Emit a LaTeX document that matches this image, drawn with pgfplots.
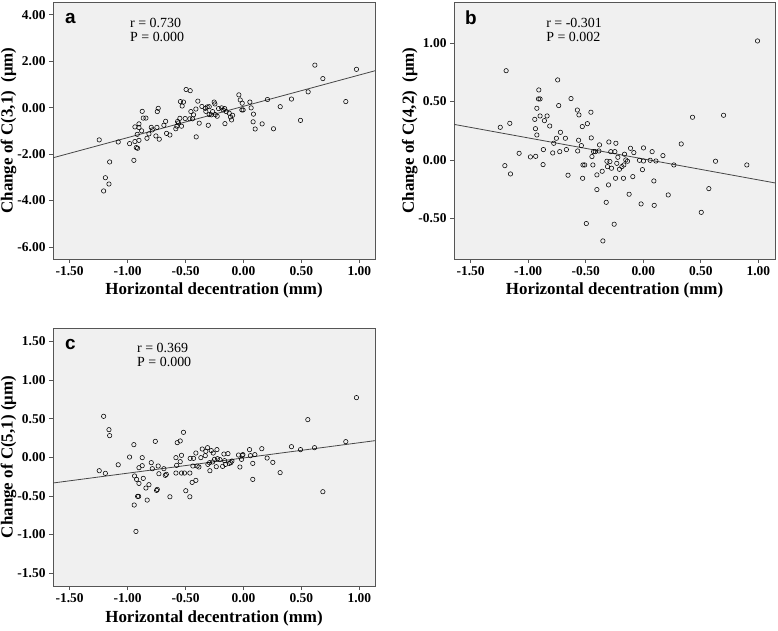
\documentclass[border=0pt]{standalone}
\usepackage{fontspec}
\setmainfont{Liberation Serif}
\newfontfamily\sansb{Liberation Sans}
\usepackage{pgfplots}
\pgfplotsset{compat=1.18}
\definecolor{bgc}{RGB}{240,240,240}
\definecolor{framec}{RGB}{85,85,85}
\definecolor{fitc}{RGB}{70,70,70}
\pgfplotsset{
  spss/.style={
    scale only axis,
    axis background/.style={fill=bgc},
    axis line style={framec, line width=0.8bp},
    tick pos=left, tick align=outside, major tick length=4bp,
    every tick/.style={framec, line width=0.8bp},
    tick label style={font=\fontsize{13.5}{14}\selectfont\bfseries},
    /pgf/number format/fixed, /pgf/number format/fixed zerofill,
    /pgf/number format/precision=2, /pgf/number format/assume math mode=true,
    label style={font=\fontsize{17}{18}\selectfont\bfseries},
    xlabel={Horizontal decentration (mm)},
    xtick={-1.5,-1,-0.5,0,0.5,1},
    xlabel style={at={(axis description cs:0.5,-0.124)}, anchor=center},
    ylabel style={at={(axis description cs:-0.138,0.5)}, anchor=center},
  },
  pts/.style={only marks, mark=o, mark size=2.2bp, black, mark options={line width=0.55bp}},
  fit/.style={fitc, line width=0.8bp},
}
\newcommand{\stat}[1]{\fontsize{14}{13.5}\selectfont #1}
\begin{document}
\begin{tikzpicture}
\useasboundingbox (0bp,0bp) rectangle (778bp,631bp);

% ---- panel a
\begin{axis}[spss, at={(53bp,629bp)}, anchor=north west, width=322bp, height=257bp,
  xmin=-1.644, xmax=1.135, ymin=-6.52, ymax=4.55,
  ytick={-6,-4,-2,0,2,4},
  ylabel={Change of C(3,1)~~(μm)}]
\addplot[fit] coordinates {(-1.644,-2.161) (1.135,1.588)};
\addplot[pts] table {
-1.245 -1.39
-1.081 -1.48
-1.155 -2.34
-1.192 -3.02
-1.161 -3.29
-1.207 -3.59
-0.946 -2.27
-0.983 -1.55
-0.937 -1.46
-0.925 -1.72
-0.914 -1.75
-0.902 -1.41
-0.917 -1.15
-0.937 -0.83
-0.902 -0.70
-0.902 -0.86
-0.874 -0.16
-0.865 -0.45
-0.842 -0.45
-0.879 -1.00
-0.833 -1.32
-0.816 -1.13
-0.796 -0.85
-0.787 -0.96
-0.756 -1.22
-0.727 -1.36
-0.747 -0.85
-0.744 -0.17
-0.736 -0.03
-0.687 -0.76
-0.672 -0.59
-0.664 -1.11
-0.635 -1.18
-0.584 -0.91
-0.575 -0.80
-0.561 -0.66
-0.549 -0.46
-0.535 -0.80
-0.569 -0.60
-0.544 0.26
-0.518 0.24
-0.529 0.07
-0.495 0.78
-0.460 0.73
-0.503 -0.47
-0.463 -0.48
-0.440 -0.48
-0.454 -0.17
-0.431 -0.31
-0.411 -0.06
-0.394 0.28
-0.408 -1.26
-0.382 -0.67
-0.359 0.05
-0.330 -0.03
-0.313 0.03
-0.296 0.04
-0.325 -0.16
-0.296 -0.30
-0.278 -0.31
-0.304 -0.76
-0.253 0.24
-0.247 0.16
-0.267 -0.17
-0.244 -0.30
-0.227 -0.37
-0.215 -0.04
-0.189 -0.01
-0.175 -0.10
-0.163 -0.04
-0.149 -0.17
-0.160 -0.69
-0.123 -0.24
-0.112 -0.40
-0.094 -0.33
-0.103 -0.53
-0.040 0.55
-0.028 0.33
-0.011 0.19
-0.014 -0.10
-0.003 -0.10
0.055 0.24
0.066 -0.01
0.086 -0.28
0.083 -0.61
0.101 -0.92
0.161 -0.70
0.207 0.35
0.259 -0.91
0.317 0.04
0.414 0.37
0.492 -0.55
0.558 0.68
0.616 1.83
0.685 1.25
0.883 0.26
0.975 1.65
};
\node[anchor=north west, inner sep=0pt, font=\sansb\bfseries\fontsize{19}{19}\selectfont] at (rel axis cs:0.037,0.957) {a};
\node[anchor=north west, inner sep=0pt, align=left, font=\stat{}] at (rel axis cs:0.239,0.936) {r = 0.730\\P = 0.000};
\end{axis}

% ---- panel b
\begin{axis}[spss, at={(454bp,629bp)}, anchor=north west, width=321bp, height=257bp,
  xmin=-1.645, xmax=1.145, ymin=-0.849, ymax=1.354,
  ytick={-0.5,0,0.5,1},
  ylabel={Change of C(4,2)~~(μm)}]
\addplot[fit] coordinates {(-1.645,0.305) (1.145,-0.197)};
\addplot[pts] table {
-1.192 0.765
-1.243 0.280
-1.160 0.314
-1.203 -0.049
-1.154 -0.120
-1.079 0.057
-0.981 0.026
-0.935 0.031
-0.871 -0.040
-0.868 0.089
-0.943 0.348
-0.937 0.268
-0.925 0.214
-0.925 0.443
-0.908 0.600
-0.911 0.523
-0.897 0.523
-0.897 0.377
-0.859 0.337
-0.836 0.377
-0.813 0.291
-0.778 0.143
-0.787 0.060
-0.755 0.186
-0.744 0.686
-0.735 0.466
-0.726 0.071
-0.720 0.237
-0.677 0.186
-0.668 0.089
-0.654 -0.131
-0.628 0.526
-0.573 0.428
-0.559 0.386
-0.562 0.169
-0.570 0.077
-0.538 0.123
-0.530 0.286
-0.527 -0.157
-0.524 -0.043
-0.509 -0.043
-0.486 0.311
-0.495 -0.545
-0.455 0.409
-0.452 0.189
-0.446 0.029
-0.438 -0.043
-0.432 0.071
-0.417 0.071
-0.403 -0.128
-0.403 -0.254
-0.380 0.129
-0.386 0.077
-0.357 -0.097
-0.351 -0.694
-0.322 -0.363
-0.316 -0.011
-0.311 -0.057
-0.302 -0.214
-0.299 0.154
-0.290 -0.014
-0.282 0.071
-0.276 -0.071
-0.253 -0.551
-0.247 0.071
-0.241 -0.157
-0.238 0.143
-0.230 -0.029
-0.221 0.023
-0.207 -0.080
-0.186 -0.057
-0.172 -0.157
-0.169 -0.043
-0.163 0.049
-0.152 0.000
-0.137 -0.011
-0.123 -0.294
-0.111 0.100
-0.091 -0.143
-0.082 0.063
-0.033 -0.003
-0.019 -0.377
-0.007 -0.083
0.002 0.103
0.002 -0.009
0.060 -0.003
0.077 0.071
0.092 -0.180
0.095 -0.389
0.110 -0.009
0.171 0.037
0.217 -0.300
0.266 -0.043
0.330 0.137
0.428 0.366
0.504 -0.449
0.570 -0.246
0.628 -0.011
0.698 0.383
0.900 -0.043
0.993 1.020
};
\node[anchor=north west, inner sep=0pt, font=\sansb\bfseries\fontsize{19}{19}\selectfont] at (rel axis cs:0.034,0.966) {b};
\node[anchor=north west, inner sep=0pt, align=left, font=\stat{}] at (rel axis cs:0.287,0.936) {r = -0.301\\P = 0.002};
\end{axis}

% ---- panel c
\begin{axis}[spss, at={(53bp,303bp)}, anchor=north west, width=322bp, height=258bp,
  xmin=-1.644, xmax=1.135, ymin=-1.665, ymax=1.674,
  ytick={-1.5,-1,-0.5,0,0.5,1,1.5},
  ylabel={Change of C(5,1) (μm)}]
\addplot[fit] coordinates {(-1.644,-0.332) (1.135,0.216)};
\addplot[pts] table {
-1.207 0.531
-1.161 0.358
-1.155 0.281
-1.245 -0.173
-1.192 -0.207
-1.081 -0.096
-0.983 0.004
-0.946 0.164
-0.940 -0.241
-0.923 -0.285
-0.902 -0.337
-0.902 -0.134
-0.874 -0.004
-0.874 -0.108
-0.865 -0.272
-0.842 -0.397
-0.816 -0.354
-0.831 -0.553
-0.914 -0.505
-0.905 -0.505
-0.943 -0.617
-0.928 -0.959
-0.796 -0.069
-0.787 -0.147
-0.761 0.207
-0.736 -0.112
-0.730 -0.212
-0.750 -0.428
-0.744 -0.415
-0.687 -0.147
-0.675 -0.233
-0.666 -0.220
-0.635 -0.510
-0.583 -0.004
-0.577 -0.104
-0.572 0.190
-0.546 0.212
-0.583 -0.203
-0.546 -0.056
-0.535 0.026
-0.535 -0.203
-0.518 0.324
-0.509 -0.203
-0.498 -0.432
-0.463 -0.203
-0.463 -0.510
-0.460 -0.013
-0.443 -0.324
-0.437 -0.112
-0.431 -0.013
-0.411 -0.298
-0.411 0.056
-0.400 -0.112
-0.385 -0.125
-0.368 -0.004
-0.356 0.108
-0.330 0.022
-0.325 0.078
-0.310 0.125
-0.307 -0.091
-0.293 -0.069
-0.290 -0.173
-0.278 0.087
-0.267 -0.060
-0.261 0.056
-0.250 -0.026
-0.235 -0.121
-0.229 0.100
-0.224 -0.017
-0.203 -0.030
-0.180 -0.117
-0.169 0.043
-0.163 -0.043
-0.155 -0.091
-0.134 0.048
-0.123 -0.078
-0.109 -0.069
-0.100 -0.048
-0.043 0.030
-0.031 -0.125
-0.017 -0.026
-0.011 0.026
-0.005 0.035
0.052 0.100
0.060 0.022
0.080 -0.078
0.080 -0.285
0.098 0.035
0.158 0.112
0.204 -0.009
0.253 -0.065
0.316 -0.198
0.414 0.138
0.492 0.100
0.555 0.488
0.613 0.125
0.685 -0.445
0.883 0.203
0.975 0.773
};
\node[anchor=north west, inner sep=0pt, font=\sansb\bfseries\fontsize{19}{19}\selectfont] at (rel axis cs:0.037,0.958) {c};
\node[anchor=north west, inner sep=0pt, align=left, font=\stat{}] at (rel axis cs:0.261,0.940) {r = 0.369\\P = 0.000};
\end{axis}
\end{tikzpicture}
\end{document}
